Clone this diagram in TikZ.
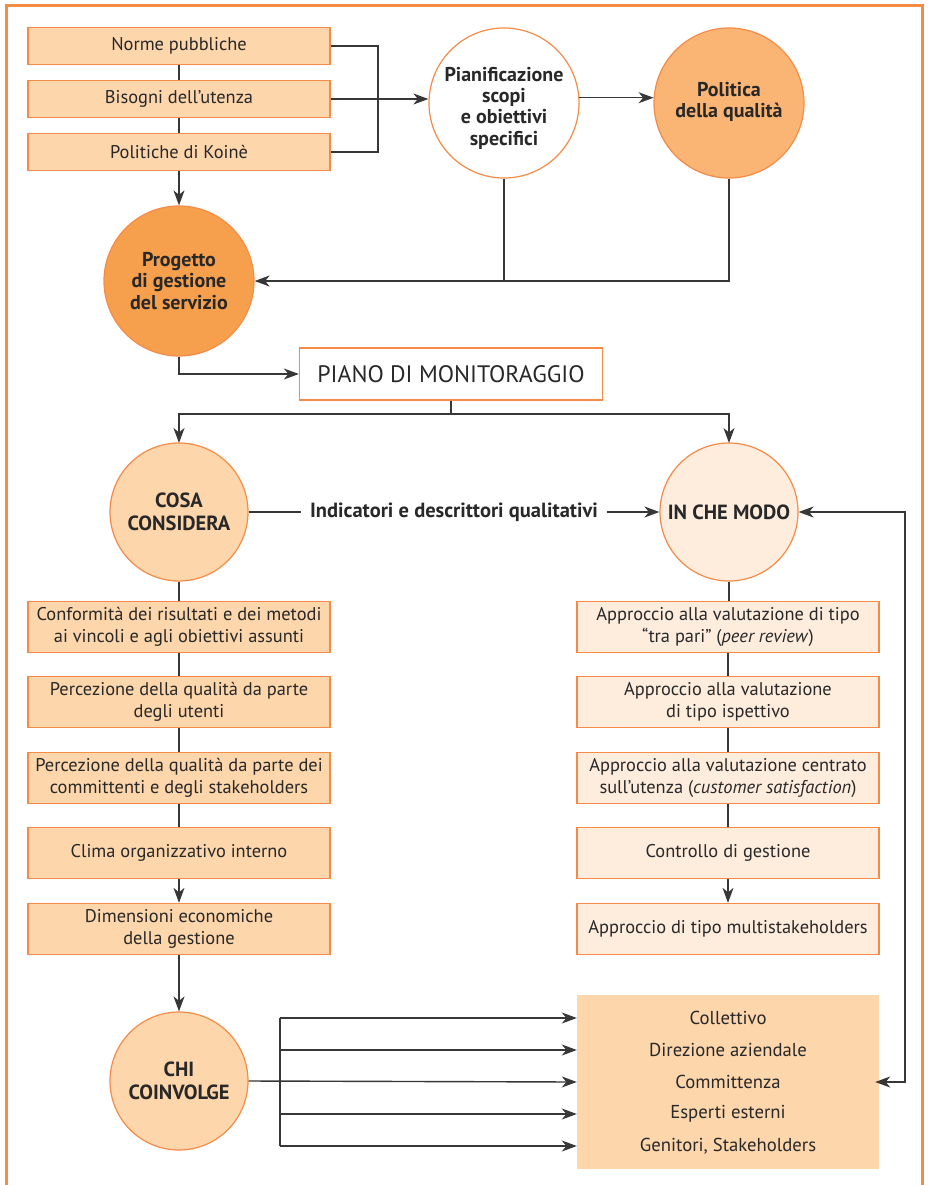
\documentclass[tikz,border=0pt]{standalone}
\usepackage{fontspec}
\setmainfont{PT Sans}
\usetikzlibrary{arrows.meta}

\definecolor{frameorange}{RGB}{246,139,72}
\definecolor{peach}{RGB}{253,214,172}
\definecolor{cream}{RGB}{254,236,221}
\definecolor{apricot}{RGB}{250,180,116}
\definecolor{deeporange}{RGB}{246,160,78}
\definecolor{ink}{RGB}{40,40,40}
\definecolor{wire}{RGB}{55,55,55}

\tikzset{
  box/.style={draw=frameorange, line width=1.3pt, fill=peach, minimum width=302pt,
    minimum height=51pt, inner sep=0pt, align=center, text=ink,
    font=\fontsize{18.4}{22}\selectfont},
  lightbox/.style={box, fill=cream},
  topbox/.style={box, minimum height=37pt},
  ring/.style={circle, draw=frameorange, line width=1.2pt, minimum size=150pt,
    inner sep=0pt, align=center, text=ink, font=\bfseries\fontsize{20}{21.3}\selectfont},
  ringtext/.style={text=ink, font=\bfseries\fontsize{20}{21.3}\selectfont, align=center, inner sep=0pt},
  smallring/.style={ring, minimum size=138pt, font=\bfseries\fontsize{20.5}{23}\selectfont},
  member/.style={text=ink, font=\fontsize{18.7}{20}\selectfont, inner sep=0pt},
  conn/.style={draw=wire, line width=1.4pt},
  arr/.style={conn, -{Stealth[length=15pt, width=11pt, inset=4.5pt]}},
  dblarr/.style={conn, {Stealth[length=15pt, width=11pt, inset=4.5pt]}-{Stealth[length=15pt, width=11pt, inset=4.5pt]}}
}

\begin{document}
\begin{tikzpicture}[x=1pt, y=-1pt]
\useasboundingbox (0,0) rectangle (928,1185);
\fill[white] (0,0) rectangle (928,1185);

% outer frame (open at the bottom edge)
\draw[frameorange, line width=3pt] (6,1190) -- (6,6) -- (922,6) -- (922,1190);

% --- upper block ---
\node[topbox] (norme) at (179,46) {Norme pubbliche};
\node[topbox] (bisogni) at (179,99) {Bisogni dell’utenza};
\node[topbox] (politiche) at (179,152) {Politiche di Koinè};

\node[ring, fill=white] (pian) at (504,103) {};
\node[ringtext] (piantext) at (504,108) {Pianificazione\\scopi\\e obiettivi\\specifici};
\node[ring, fill=apricot] (pol) at (729,103) {};
\node[ringtext] (poltext) at (729,102) {Politica\\della qualità};
\node[ring, fill=deeporange] (prog) at (179,281) {Progetto\\di gestione\\del servizio};

\node[draw=frameorange, line width=1.3pt, fill=white, minimum width=303pt, minimum height=52pt,
      text=ink, font=\fontsize{23.8}{26}\selectfont] (piano) at (451,374) {PIANO DI MONITORAGGIO};

\coordinate (brk) at (378,99);
\coordinate (split) at (451,414);

\draw[conn] (norme) -- (bisogni);
\draw[conn] (bisogni) -- (politiche);
\draw[arr] (politiche) -- (prog);
\draw[conn] (norme.east) -| (brk) |- (politiche.east);
\draw[arr] (bisogni.east) -- (pian.west |- bisogni.east);
\draw[arr] (pian.4) -- (pol.176);
\draw[arr] (pol.south) |- (prog.east);
\draw[conn] (pian.south) -- (pian.south |- prog.east);
\draw[arr] (prog.south) |- (piano.west);
\draw[conn] (piano.south) -- (split);
\draw[arr] (split) -| (179,443);
\draw[arr] (split) -| (729,443);

% --- middle block ---
\node[smallring, fill=peach] (cosa) at (179,512) {COSA\\CONSIDERA};
\node[smallring, fill=cream] (modo) at (729,512) {IN CHE MODO};

\draw[arr] (cosa.east) -- node[fill=white, inner xsep=9pt, text=ink,
   font=\bfseries\fontsize{20.5}{22}\selectfont] (ind) {Indicatori e descrittori qualitativi} (modo.west);

\node[box] (c1) at (179,627) {Conformità dei risultati e dei metodi\\ai vincoli e agli obiettivi assunti};
\node[box] (c2) at (179,702) {Percezione della qualità da parte\\degli utenti};
\node[box] (c3) at (179,778) {Percezione della qualità da parte dei\\committenti e degli stakeholders};
\node[box] (c4) at (179,853) {Clima organizzativo interno};
\node[box] (c5) at (179,929) {Dimensioni economiche\\della gestione};

\node[lightbox] (m1) at (728,627) {Approccio alla valutazione di tipo\\“tra pari” (\textit{peer review})};
\node[lightbox] (m2) at (728,702) {Approccio alla valutazione\\di tipo ispettivo};
\node[lightbox] (m3) at (728,778) {Approccio alla valutazione centrato\\sull’utenza (\textit{customer satisfaction})};
\node[lightbox] (m4) at (728,853) {Controllo di gestione};
\node[lightbox] (m5) at (728,929) {Approccio di tipo multistakeholders};

\draw[conn] (cosa) -- (c1);
\draw[conn] (c1) -- (c2);
\draw[conn] (c2) -- (c3);
\draw[conn] (c3) -- (c4);
\draw[arr] (c4) -- (c5);

\draw[conn] (modo.south) -- (modo.south |- m1.north);
\draw[conn] (m1) -- (m2);
\draw[conn] (m2) -- (m3);
\draw[conn] (m3) -- (m4);
\draw[arr] (m4) -- (m5);

% --- lower block ---
\node[smallring, fill=peach] (chi) at (179,1081) {CHI\\COINVOLGE};
\draw[arr] (c5) -- (chi);

\node[fill=peach, minimum width=302pt, minimum height=174pt, inner sep=0pt] (grp) at (728,1082) {};
\node[member] (g1) at (728,1018) {Collettivo};
\node[member] (g2) at (728,1050) {Direzione aziendale};
\node[member] (g3) at (728,1082) {Committenza};
\node[member] (g4) at (728,1114) {Esperti esterni};
\node[member] (g5) at (728,1146) {Genitori, Stakeholders};

\coordinate (spine) at (280,1081);
\draw[conn] (spine |- g1) -- (spine |- g5);
\draw[arr] (chi.east) -- (grp.west |- g3);
\draw[arr] (spine |- g1) -- (grp.west |- g1);
\draw[arr] (spine |- g2) -- (grp.west |- g2);
\draw[arr] (spine |- g4) -- (grp.west |- g4);
\draw[arr] (spine |- g5) -- (grp.west |- g5);

\coordinate (ret) at (905,512);
\draw[dblarr] (modo.east) -- (ret) |- ([xshift=-4pt]grp.east |- g3);
\end{tikzpicture}
\end{document}
